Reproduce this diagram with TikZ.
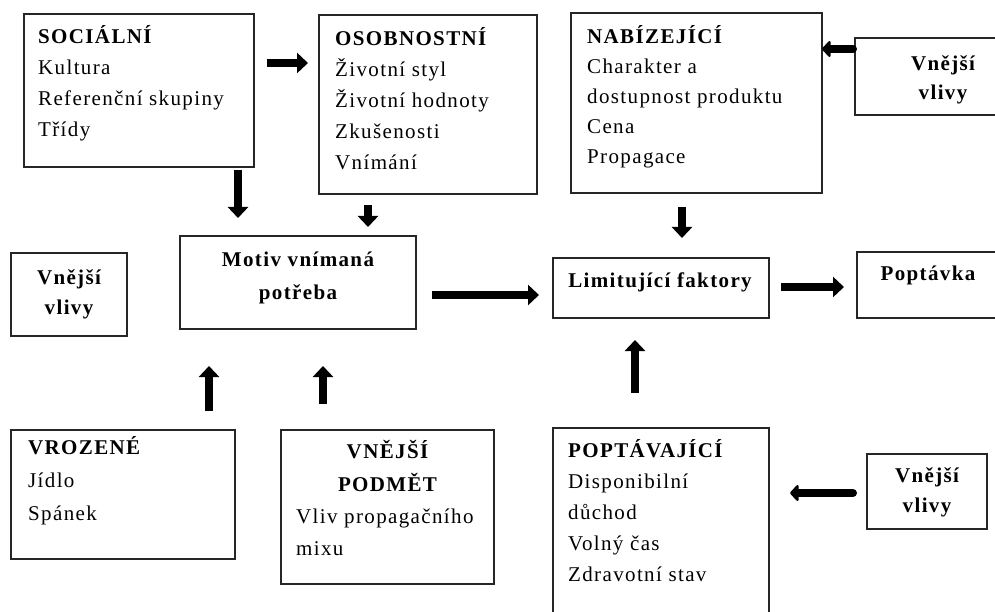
\documentclass[tikz,border=0pt]{standalone}
\usepackage{fontspec}
\setmainfont[LetterSpace=6.5]{Liberation Serif}
\usetikzlibrary{arrows.meta,calc}
\begin{document}
\begin{tikzpicture}[x=1pt,y=-1pt,
  box/.style={draw=black!85, line width=1.3pt, rectangle, inner sep=0pt, outer sep=0pt, anchor=north west},
  txt/.style={inner sep=0pt, anchor=north west, align=left, font=\fontsize{21}{#1}\selectfont},
  txt/.default=31,
  ctxt/.style={inner sep=0pt, anchor=north, align=center, font=\fontsize{21}{#1}\selectfont\bfseries},
  ctxt/.default=31,
  bigarrow/.style={line width=8pt, -{Triangle[length=11pt,width=20pt]}},
  roundarrow/.style={line width=8pt, line cap=round, -{Triangle[length=9pt,width=19pt,round]}},
]
\path[use as bounding box] (0,0) rectangle (995,612);
\clip (0,0) rectangle (995,612);

% boxes
\node[box, minimum width=230pt, minimum height=153pt] (soc) at (24,14) {};
\node[box, minimum width=218pt, minimum height=179pt] (oso) at (319,15) {};
\node[box, minimum width=251pt, minimum height=180pt] (nab) at (571,13) {};
\node[box, minimum width=176pt, minimum height=77pt] (vtr) at (855,38) {};
\node[box, minimum width=236pt, minimum height=93pt] (mot) at (180,236) {};
\node[box, minimum width=116pt, minimum height=83pt] (vl) at (11,253) {};
\node[box, minimum width=216pt, minimum height=60pt] (lim) at (553,258) {};
\node[box, minimum width=143pt, minimum height=66pt] (pop) at (857,252) {};
\node[box, minimum width=224pt, minimum height=129pt] (vroz) at (11,430) {};
\node[box, minimum width=213pt, minimum height=154pt] (vnp) at (281,430) {};
\node[box, minimum width=216pt, minimum height=212pt] (popt) at (553,428) {};
\node[box, minimum width=120pt, minimum height=75pt] (vbr) at (867,454) {};

% texts
\node[txt=31] (tsoc) at (38,21.3) {\strut\textbf{SOCIÁLNÍ}\\Kultura\\Referenční skupiny\\Třídy};
\node[txt=31] (toso) at (335,23.3) {\strut\textbf{OSOBNOSTNÍ}\\Životní styl\\Životní hodnoty\\Zkušenosti\\Vnímání};
\node[txt=30] (tnab) at (587,22) {\strut\textbf{NABÍZEJÍCÍ}\\Charakter a\\dostupnost produktu\\Cena\\Propagace};
\node[ctxt=29] (tvtr) at (943,49.7) {\strut Vnější\\vlivy};
\node[ctxt=33] (tmot) at (298,242.9) {\strut Motiv vnímaná\\potřeba};
\node[ctxt=30] (tvl) at (69,263) {\strut Vnější\\vlivy};
\node[ctxt=31] (tlim) at (660,265.3) {\strut Limitující faktory};
\node[ctxt=31] (tpop) at (928,258.3) {\strut Poptávka};
\node[txt=33] (tvroz) at (28,430.9) {\strut\textbf{VROZENÉ}\\Jídlo\\Spánek};
\node[ctxt=33] (tvnp) at (387.5,434.9) {\strut VNĚJŠÍ\\PODMĚT};
\node[txt=32] (tvnp2) at (296,500.6) {\strut Vliv propagačního\\mixu};
\node[txt=31] (tpopt) at (568,435.3) {\strut\textbf{POPTÁVAJÍCÍ}\\Disponibilní\\důchod\\Volný čas\\Zdravotní stav};
\node[ctxt=30] (tvbr) at (927,461) {\strut Vnější\\vlivy};

% arrows
\draw[bigarrow] ($(soc.north east)+(13,49)$) -- ($(oso.north west)+(-11,48)$);
\draw[bigarrow] ($(soc.south east)+(-16,3)$) -- ($(mot.north west)+(58,-18)$);
\draw[bigarrow] ($(oso.south west)+(49,11)$) -- ($(mot.north east)+(-48,-9)$);
\draw[bigarrow] ($(mot.north east)+(16,59)$) -- ($(lim.north west)+(-14,37)$);
\draw[bigarrow] ($(vroz.north west)+(198,-19)$) -- ($(mot.south west)+(29,37)$);
\draw[bigarrow] ($(vnp.north west)+(42,-26)$) -- ($(mot.south west)+(143,37)$);
\draw[bigarrow] ($(popt.north west)+(82,-35)$) -- ($(lim.south west)+(82,22)$);
\draw[bigarrow] ($(nab.south west)+(111,14)$) -- ($(lim.north west)+(129,-20)$);
\draw[bigarrow] ($(lim.north east)+(12,29)$) -- ($(pop.north west)+(-13,35)$);
\draw[roundarrow] ($(vtr.north west)+(-2,11)$) -- ($(nab.north east)+(0,36)$);
\draw[roundarrow] ($(vbr.north west)+(-14,39)$) -- ($(popt.north east)+(21,65)$);
\end{tikzpicture}
\end{document}
